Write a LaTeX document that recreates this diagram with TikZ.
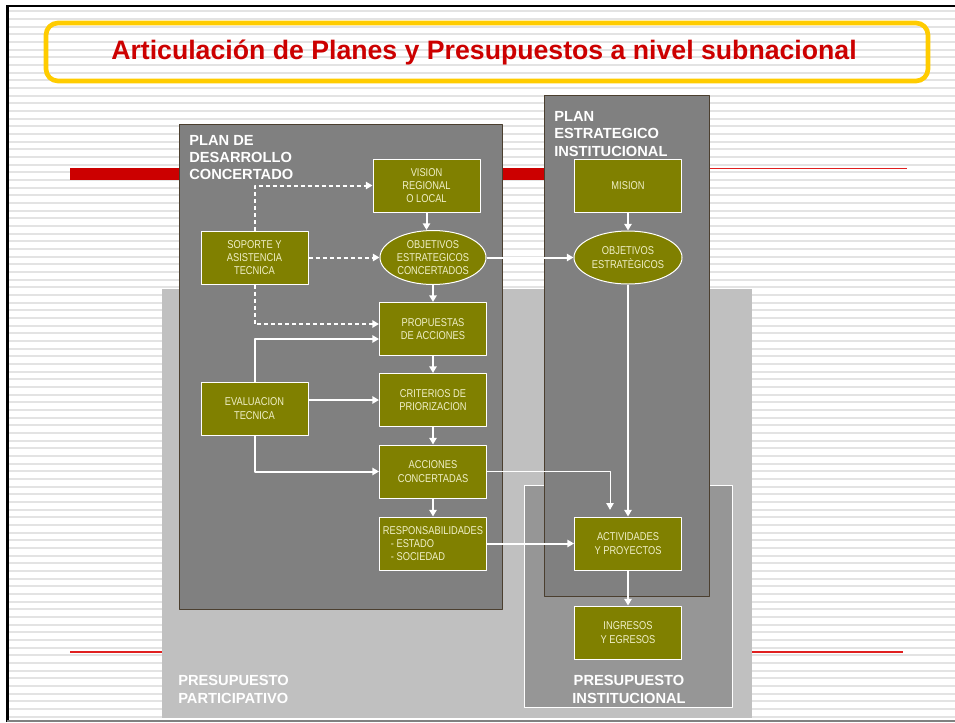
\documentclass[tikz,border=0pt]{standalone}
\usepackage{fontspec}
\setmainfont{Liberation Sans}
\newfontfamily\narrowfont[FakeStretch=0.82]{Liberation Sans}
\usetikzlibrary{arrows.meta,shapes.geometric}
\definecolor{olivebox}{HTML}{808000}
\definecolor{cream}{HTML}{F0F0C8}
\definecolor{panelgray}{HTML}{808080}
\definecolor{paneledge}{HTML}{4B3F2F}
\definecolor{ppgray}{HTML}{C0C0C0}
\definecolor{pigray}{HTML}{969696}
\definecolor{stripegray}{HTML}{E3E3E3}
\definecolor{titlered}{HTML}{CC0000}
\definecolor{thinred}{HTML}{E02020}
\definecolor{titleyellow}{HTML}{FFCC00}
\tikzset{
  box/.style={draw=white,fill=olivebox,text=cream,line width=0.75pt,
    font=\narrowfont\fontsize{8.5}{10}\selectfont,align=center,
    minimum width=80.25pt,minimum height=39.75pt,inner sep=1pt},
  oval/.style={box,ellipse,inner sep=0pt,minimum width=79.5pt,minimum height=40.5pt},
  panel/.style={fill=panelgray,draw=paneledge,line width=0.75pt},
  lbl/.style={text=white,font=\fontsize{11}{13}\selectfont\bfseries,inner sep=0pt},
  flow/.style={white,line width=1.5pt,->},
  dsh/.style={white,line width=1.5pt,->,dash pattern=on 3pt off 2.25pt},
}
\begin{document}
\begin{tikzpicture}[x=0.75pt,y=-0.75pt,>={Triangle[length=5pt,width=5.5pt]},line join=round]
			\useasboundingbox (0,0) rectangle (955,722);
			\foreach \i in {0,...,92}
			\draw[stripegray,line width=1.5pt] (9,11.2+7.667*\i)--(955,11.2+7.667*\i);
			\draw[black,line width=1.5pt] (7,5.5)--(955,5.5);
			\draw[black,line width=2.25pt] (7.5,5)--(7.5,722);
			\draw[panelgray,line width=1.5pt] (7,720.5)--(955,720.5);
			
			\draw[titleyellow,line width=3.5pt,rounded corners=9pt] (46,23) rectangle (928,81);
			\node[text=titlered,font=\fontsize{20}{24}\selectfont\bfseries] (title) at (484,52)
			{Articulación de Planes y Presupuestos a nivel subnacional};
			
			\fill[titlered] (70,168) rectangle (560,180);
			\draw[thinred,line width=0.9pt] (560,168.5)--(907,168.5);
			\draw[thinred,line width=0.9pt] (70,652)--(162,652);
			\draw[thinred,line width=0.9pt] (752,652)--(903,652);
			
			\fill[ppgray] (162,289) rectangle (752,718);
			\draw[fill=pigray,draw=white,line width=0.75pt] (524,485) rectangle (732,707);
			\draw[panel] (179,124) rectangle (502,609);
			\draw[panel] (544,95) rectangle (709,596);
			
			\node[lbl,anchor=west,align=left] (pdc) at (189,157.5) {PLAN DE\\DESARROLLO\\CONCERTADO};
			\node[lbl,anchor=west,align=left] (pei) at (554,134) {PLAN\\ESTRATEGICO\\INSTITUCIONAL};
			\node[lbl,anchor=west,align=left] (pp) at (178,689.5) {PRESUPUESTO\\PARTICIPATIVO};
			\node[lbl,align=center] (pi) at (629,689.5) {PRESUPUESTO\\INSTITUCIONAL};
			
			\node[box] (vis) at (426.5,185.5) {VISION\\REGIONAL\\O LOCAL};
			\node[box] (sop) at (254.5,257.5) {SOPORTE Y\\ASISTENCIA\\TECNICA};
			\node[oval] (obc) at (433,257.5) {OBJETIVOS\\ESTRATEGICOS\\CONCERTADOS};
			\node[box] (pro) at (433,329) {PROPUESTAS\\DE ACCIONES};
			\node[box] (eval) at (254.5,408.5) {EVALUACION\\TECNICA};
			\node[box] (crit) at (433,400) {CRITERIOS DE\\PRIORIZACION};
			\node[box] (acc) at (433,471.5) {ACCIONES\\CONCERTADAS};
			\node[box,align=left] (res) at (433,543.5) {RESPONSABILIDADES\\\hspace*{6pt}- ESTADO\\\hspace*{6pt}- SOCIEDAD};
			\node[box] (mis) at (628,186) {MISION};
			\node[oval,minimum width=81pt,minimum height=39.75pt] (obe) at (628,257.5) {OBJETIVOS\\ESTRATÈGICOS};
			\node[box] (act) at (628,543.5) {ACTIVIDADES\\Y PROYECTOS};
			\node[box] (ing) at (628,632.5) {INGRESOS\\Y EGRESOS};
			
			\draw[dsh] (sop.north)|-(vis.west);
			\draw[dsh] (sop.east)--(obc.west);
			\draw[dsh] (sop.south)|-([yshift=3.75pt]pro.west);
			\draw[flow] (eval.north)|-([yshift=-7.5pt]pro.west);
			\draw[flow] (eval.east |- crit.west)--(crit.west);
			\draw[flow] (eval.south)|-(acc.west);
			\draw[flow] (vis.south)--(vis.south |- obc.north);
			\draw[flow] (obc.south)--(pro.north);
			\draw[flow] (pro.south)--(crit.north);
			\draw[flow] (crit.south)--(acc.north);
			\draw[flow] (acc.south)--(res.north);
			\draw[flow] (obc.east)--(obe.west);
			\draw[flow] (mis.south)--(obe.north);
			\draw[flow] (obe.south)--(act.north);
			\draw[flow] (res.east)--(act.west);
			\draw[flow] (act.south)--(ing.north);
			\draw[flow,line width=0.75pt,shorten >=5pt] (acc.east)-|([xshift=-13.5pt]act.north);
			\end{tikzpicture}
\end{document}
